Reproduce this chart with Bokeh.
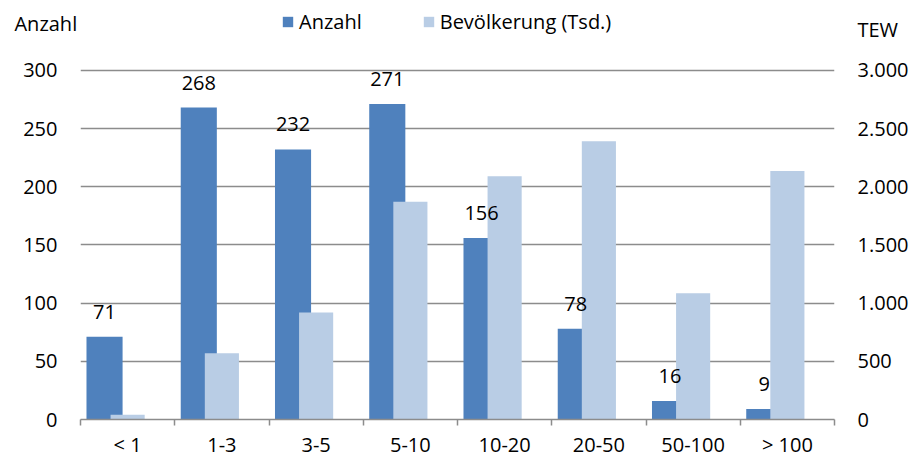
from bokeh.plotting import figure
from bokeh.models import (Range1d, LinearAxis, FixedTicker, ColumnDataSource, LabelSet,
                          Legend, LegendItem)
from bokeh.transform import dodge
from bokeh.core.properties import value
from bokeh.embed import file_html
from bokeh.resources import INLINE

categories = ["< 1", "1-3", "3-5", "5-10", "10-20", "20-50", "50-100", "> 100"]
anzahl = [71, 268, 232, 271, 156, 78, 16, 9]
bevoelkerung = [40, 570, 920, 1870, 2090, 2390, 1085, 2135]
left_ticks = [0, 50, 100, 150, 200, 250, 300]
right_ticks = [0, 500, 1000, 1500, 2000, 2500, 3000]
right_tick_labels = ["0", "500", "1.000", "1.500", "2.000", "2.500", "3.000"]

FONT = "Open Sans"
FS = "20px"
DARK = "#4F81BD"
LIGHT = "#B9CDE5"
GRID = "#8c8c8c"

# layout: plot frame reaches near the top of the canvas so the legend row is inside it;
# the 300 gridline sits 350px above the baseline as in the reference.
W, H = 912, 460
TOP, BOTTOM, LEFT, RIGHT = 8, 40, 80, 78
frame_h = H - TOP - BOTTOM
px_per_unit = 350.0 / 300
ymax = frame_h / px_per_unit

n = len(categories)
pos = [i + 0.5 for i in range(n)]
src = ColumnDataSource(dict(x=pos, cat=categories, anzahl=anzahl, bev=bevoelkerung,
                            lab=[str(v) for v in anzahl]))

p = figure(width=W, height=H, output_backend="svg", toolbar_location=None,
           x_range=Range1d(0, n), y_range=Range1d(0, ymax),
           min_border_left=LEFT, min_border_right=RIGHT, min_border_top=TOP,
           min_border_bottom=BOTTOM)
p.outline_line_color = None
p.extra_y_ranges = {"tew": Range1d(0, ymax * 10)}

# grids
p.xgrid.visible = False
p.ygrid.ticker = FixedTicker(ticks=left_ticks)
p.ygrid.grid_line_color = GRID
p.ygrid.grid_line_width = 1.5

# bottom axis
xa = p.xaxis[0]
xa.ticker = FixedTicker(ticks=pos, minor_ticks=list(range(n + 1)))
xa.major_label_overrides = {pos[i]: categories[i] for i in range(n)}
xa.axis_line_color = GRID
xa.axis_line_width = 1.5
xa.major_tick_line_color = None
xa.major_tick_in = 0
xa.major_tick_out = 0
xa.minor_tick_in = 0
xa.minor_tick_out = 6
xa.minor_tick_line_color = GRID
xa.minor_tick_line_width = 1.5
xa.major_label_standoff = 5
xa.major_label_text_font = FONT
xa.major_label_text_font_size = FS
xa.major_label_text_color = "black"

def style_y(ax):
    ax.axis_line_color = None
    ax.major_tick_line_color = None
    ax.minor_tick_line_color = None
    ax.major_tick_out = 0
    ax.major_tick_in = 0
    ax.major_label_standoff = 23
    ax.major_label_text_font = FONT
    ax.major_label_text_font_size = FS
    ax.major_label_text_color = "black"
    ax.axis_label_text_font = FONT
    ax.axis_label_text_font_size = FS
    ax.axis_label_text_font_style = "normal"
    ax.axis_label_text_color = "black"
    ax.axis_label_orientation = "horizontal"
    ax.axis_label_align = "end"

# left axis (its title sits at the top end, pushed down by an empty first line)
ya = p.yaxis[0]
ya.ticker = FixedTicker(ticks=left_ticks)
style_y(ya)
ya.axis_label = "\nAnzahl"
ya.axis_label_text_line_height = 1.1
ya.axis_label_standoff = -57

# right axis
ra = LinearAxis(y_range_name="tew", ticker=FixedTicker(ticks=right_ticks),
                major_label_overrides=dict(zip(right_ticks, right_tick_labels)))
style_y(ra)
ra.axis_label = "\nTEW"
ra.axis_label_text_line_height = 1.55
ra.axis_label_standoff = -54
p.add_layout(ra, "right")

# bars
dark = p.vbar(x=dodge("x", -0.245), top="anzahl", width=0.383, source=src,
              fill_color=DARK, line_color=None)
light = p.vbar(x="x", top="bev", width=0.362, source=src, y_range_name="tew",
               fill_color=LIGHT, line_color=None)

labels = LabelSet(x=dodge("x", -0.245), y="anzahl", text="lab", source=src,
                  text_align="center", text_baseline="alphabetic", y_offset=18,
                  text_font=value(FONT), text_font_size=value(FS), text_color="black")
p.add_layout(labels)

legend = Legend(items=[LegendItem(label="Anzahl", renderers=[dark]),
                       LegendItem(label="Bevölkerung (Tsd.)", renderers=[light])],
                orientation="horizontal", location=(201, 384),
                glyph_width=13, glyph_height=13, label_standoff=5, spacing=60,
                padding=0, margin=0, border_line_color=None, background_fill_alpha=0,
                label_text_font=FONT, label_text_font_size=FS, label_text_color="black")
p.add_layout(legend)

open("out.html", "w").write(file_html(p, INLINE))
